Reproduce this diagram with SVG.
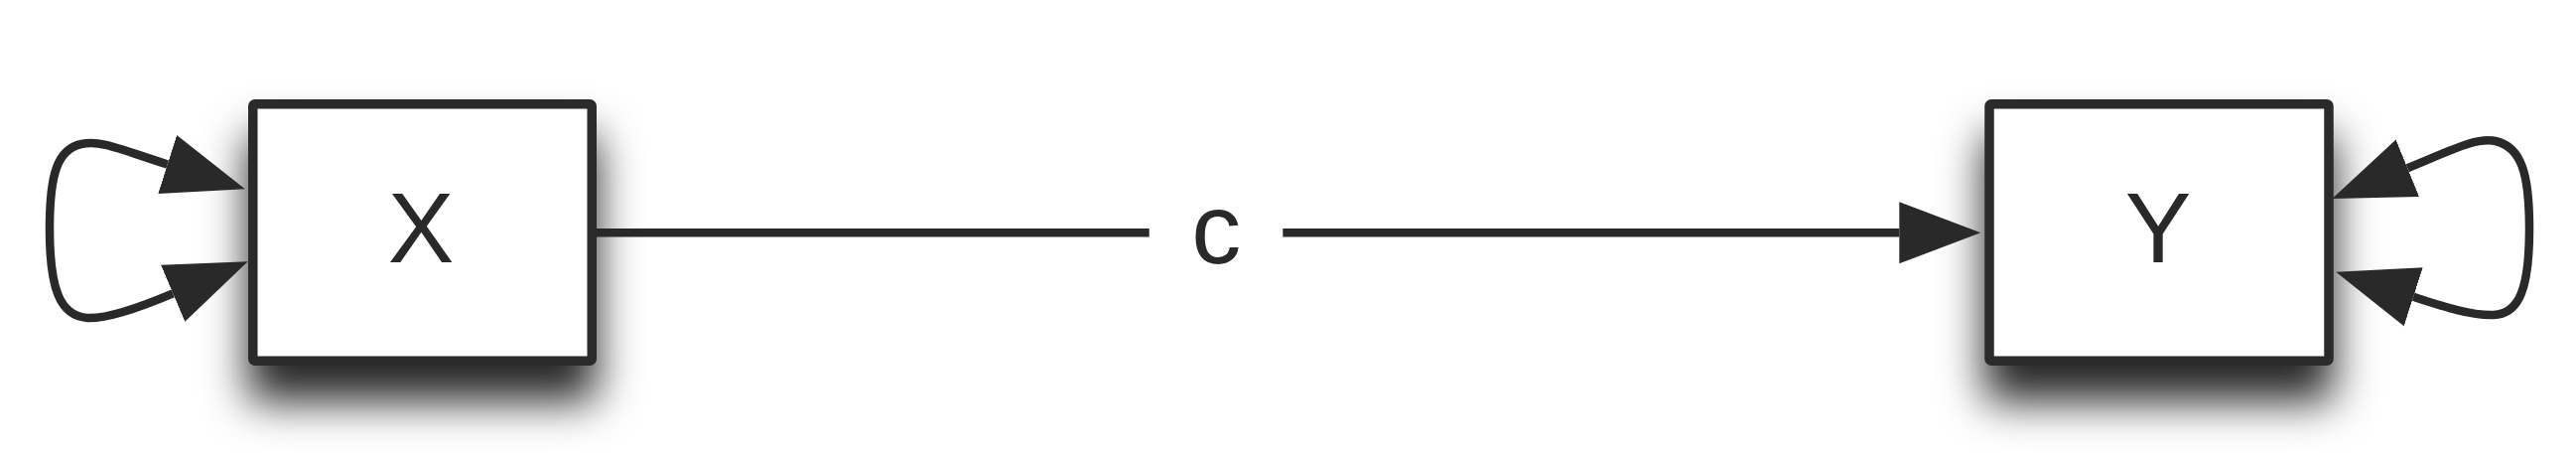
<svg xmlns="http://www.w3.org/2000/svg" width="2595" height="460" viewBox="0 0 2595 460">
<defs>
<style>
.box{fill:#ffffff;stroke:#292929;stroke-width:9.5;filter:url(#shadow)}
.lbl{font-family:"Liberation Sans",Arial,sans-serif;font-size:100px;fill:#292929;text-anchor:middle}
.edge{fill:none;stroke:#292929;stroke-width:8.5}
.elbl{font-family:"Liberation Sans",Arial,sans-serif;font-size:100px;fill:#292929;text-anchor:middle}
</style>
<filter id="shadow" x="-30%" y="-30%" width="160%" height="200%">
<feDropShadow dx="0" dy="36" stdDeviation="22" flood-color="#000000" flood-opacity="0.85"/>
</filter>
<marker id="ah" markerUnits="userSpaceOnUse" markerWidth="84" markerHeight="64" viewBox="0 0 84 64" refX="0" refY="32" orient="auto-start-reverse">
<path d="M0,1 L82,32 L0,63 z" fill="#292929"/>
</marker>
</defs>
<rect width="2595" height="460" fill="#ffffff"/>
<g id="node-X">
<rect class="box" x="254.75" y="104.75" width="341.5" height="258.5" rx="2"/>
<text class="lbl" x="424" y="263.5">X</text>
</g>
<g id="node-Y">
<rect class="box" x="2004" y="104.75" width="342" height="258.5" rx="2"/>
<text class="lbl" x="2174" y="263.5">Y</text>
</g>
<g id="connectors">
<path class="edge" d="M600,234.3 L1913.3,234.3" marker-end="url(#ah)"/>
<rect x="1157.7" y="195" width="134.6" height="80" fill="#ffffff"/>
<text class="elbl" x="1225.3" y="265">c</text>
<path class="edge" d="M174.2,295.3 C146.6,307 110,321 88,320 C60,318 50,290 50,230 C50,175 58,150 82,145 C102,141 120,150 168.7,165.5" marker-start="url(#ah)" marker-end="url(#ah)"/>
<path class="edge" d="M2431.2,298.8 C2459.8,308 2490,318 2512,317 C2538,316 2548,290 2548,230 C2548,175 2540,148 2514,142 C2494,138 2470,151 2425.3,169.2" marker-start="url(#ah)" marker-end="url(#ah)"/>
</g>
</svg>
